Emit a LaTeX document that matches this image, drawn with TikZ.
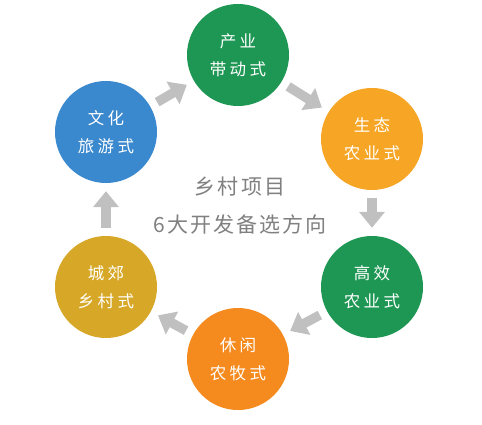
\documentclass[tikz,border=0pt]{standalone}
\usepackage{fontspec}
\usetikzlibrary{arrows.meta}
\newfontfamily\cjkbox[LetterSpace=20]{Noto Sans CJK SC}
\newfontfamily\cjkmid[LetterSpace=10]{Noto Sans CJK SC}
\definecolor{ringgreen}{RGB}{31,151,84}
\definecolor{ringorange}{RGB}{246,165,36}
\definecolor{ringdeep}{RGB}{245,138,30}
\definecolor{ringgold}{RGB}{215,168,40}
\definecolor{ringblue}{RGB}{58,136,206}
\definecolor{flowgray}{RGB}{192,192,192}
\definecolor{midgray}{RGB}{128,128,128}
\begin{document}
\begin{tikzpicture}[x=1pt,y=-1pt,
  mode/.style={circle,minimum size=102pt,inner sep=0pt,draw=none,text=white,align=center,font=\cjkbox\fontsize{16.5}{28}\selectfont},
  flow/.style={draw=flowgray,line width=9.5pt,shorten <=8pt,shorten >=8pt,-{Triangle[length=16pt,width=25pt]}}]
\path[use as bounding box] (0,0) rectangle (482,425);
\path[fill=white,draw=none] (0,0) rectangle (482,425);
% six development modes
\node[mode,fill=ringgreen] (chanye) at (238,55) {产业\\带动式};
\node[mode,fill=ringorange] (shengtai) at (372,139) {生态\\农业式};
\node[mode,fill=ringgreen] (gaoxiao) at (372,287) {高效\\农业式};
\node[mode,fill=ringdeep] (xiuxian) at (238,359) {休闲\\农牧式};
\node[mode,fill=ringgold] (chengjiao) at (106,287) {城郊\\乡村式};
\node[mode,fill=ringblue] (wenhua) at (106,132) {文化\\旅游式};
% title in the middle
\node[text=midgray,align=center,font=\cjkmid\fontsize{21}{38}\selectfont] (title) at (240,206) {乡村项目\\6大开发备选方向};
% arrows, clockwise
\draw[flow] (chanye) -- (shengtai);
\draw[flow] (shengtai) -- (gaoxiao);
\draw[flow] (gaoxiao) -- (xiuxian);
\draw[flow] (xiuxian) -- (chengjiao);
\draw[flow] (chengjiao) -- (wenhua);
\draw[flow] (wenhua) -- (chanye);
\end{tikzpicture}
\end{document}
